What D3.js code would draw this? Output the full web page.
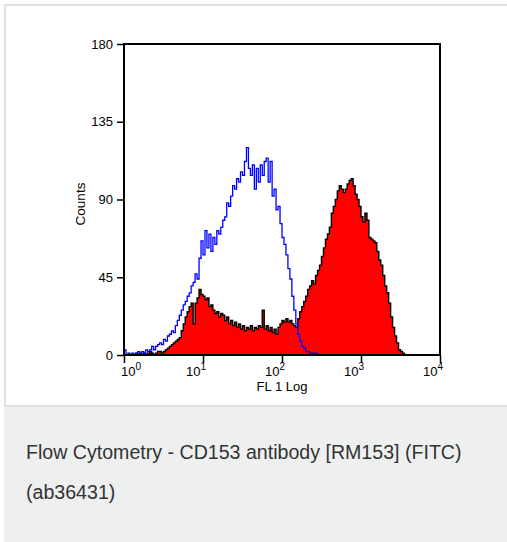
<!DOCTYPE html>
<html>
<head>
<meta charset="utf-8">
<script src="https://cdn.jsdelivr.net/npm/d3@7"></script>
<style>
  body { margin: 0; background: #fff; }
  svg text { font-family: "Liberation Sans", Arial, sans-serif; }
</style>
</head>
<body>
<div class="chart"></div>
<script>
// histogram channels: 0.025 decade wide, starting at 10^0
const binWidth = 0.025;

// isotype control (blue outline)
const blueCounts = [
  3,0,1,0,1,0,1,2,1,2,
  1,3,2,3,5,3,5,6,7,6,
  9,8,11,12,14,13,17,20,23,26,
  29,31,34,36,40,42,47,44,56,66,
  58,72,62,70,60,68,64,72,70,74,
  78,80,88,86,92,98,96,102,100,106,
  104,112,120,108,104,110,96,108,100,110,
  104,112,114,100,112,92,96,84,86,76,
  68,64,58,50,44,34,26,18,12,8,
  5,4,2,2,1,1,1,1
];

// CD153 stained (red filled, black outline)
const redCounts = [
  0,0,0,0,0,0,1,0,1,0,
  1,0,1,2,1,0,1,2,2,1,
  2,3,4,5,6,7,8,9,10,14,
  18,22,25,28,30,18,30,33,38,35,
  34,32,33,28,29,26,24,25,22,24,
  23,20,22,18,20,17,19,16,18,15,
  17,14,16,15,17,14,16,15,17,16,
  26,15,17,14,16,13,15,12,16,18,
  20,19,21,19,20,18,17,16,21,25,
  28,31,34,38,40,43,41,46,49,52,
  57,62,67,70,74,82,86,90,95,98,
  96,94,96,99,101,102,98,93,90,86,
  80,77,82,78,68,67,66,65,60,55,
  52,46,40,36,30,22,16,11,7,3,
  2,1
];

const yTicks = [0, 45, 90, 135, 180];
const xTicks = [1, 10, 100, 1000, 10000];
const xExponents = ["0", "1", "2", "3", "4"];
const xLabel = "FL 1 Log";
const yLabel = "Counts";
const captionLines = ["Flow Cytometry - CD153 antibody [RM153] (FITC)", "(ab36431)"];

const W = 507, H = 542;

const svg = d3.select(".chart").append("svg")
    .attr("width", W)
    .attr("height", H);

// card + caption band
svg.append("rect")
    .attr("x", 5).attr("y", 5)
    .attr("width", W).attr("height", H)
    .attr("fill", "#fff")
    .attr("stroke", "#e2e2e2")
    .attr("stroke-width", 2);
svg.append("rect")
    .attr("x", 4).attr("y", 406)
    .attr("width", W).attr("height", H - 406)
    .attr("fill", "#eef0ef");
svg.append("line")
    .attr("x1", 4).attr("x2", W)
    .attr("y1", 406).attr("y2", 406)
    .attr("stroke", "#e2e2e2")
    .attr("stroke-width", 2);

svg.selectAll(".caption")
    .data(captionLines)
    .join("text")
    .attr("class", "caption")
    .attr("x", 26)
    .attr("y", (d, i) => 459 + i * 40)
    .attr("fill", "#333")
    .style("font-size", "19.6px")
    .text(d => d);

const x = d3.scaleLog().domain([1, 10000]).range([124, 440]);
const y = d3.scaleLinear().domain([0, 180]).range([355, 44]);

function steps(counts) {
    const pts = [];
    counts.forEach((c, i) => {
        pts.push([Math.pow(10, i * binWidth), c]);
        pts.push([Math.pow(10, (i + 1) * binWidth), c]);
    });
    pts.push([pts[pts.length - 1][0], 0]);
    return pts;
}

const area = d3.area()
    .x(d => x(d[0]))
    .y0(y(0))
    .y1(d => y(d[1]));
const line = d3.line()
    .x(d => x(d[0]))
    .y(d => y(d[1]));

const redPts = steps(redCounts);
const bluePts = [[1, 0]].concat(steps(blueCounts));

svg.append("path")
    .datum(redPts)
    .attr("d", area)
    .attr("fill", "#ff0000");
svg.append("path")
    .datum(redPts)
    .attr("d", line)
    .attr("fill", "none")
    .attr("stroke", "#000")
    .attr("stroke-width", 1.4);
svg.append("path")
    .datum(bluePts)
    .attr("d", line)
    .attr("fill", "none")
    .attr("stroke", "#0000ff")
    .attr("stroke-width", 1.3);

// frame
svg.append("rect")
    .attr("x", 124).attr("y", 44)
    .attr("width", 316).attr("height", 311)
    .attr("fill", "none")
    .attr("stroke", "#000")
    .attr("stroke-width", 2);

const yAxis = svg.append("g")
    .attr("transform", "translate(124,0)")
    .call(d3.axisLeft(y).tickValues(yTicks).tickSize(7).tickPadding(4));
yAxis.select(".domain").remove();
yAxis.selectAll(".tick line").attr("stroke-width", 1.5);
yAxis.selectAll(".tick text")
    .attr("fill", "#000")
    .style("font-size", "13px")
    .style("font-family", "'Liberation Sans', Arial, sans-serif");

const xAxis = svg.append("g")
    .attr("transform", "translate(0,355)")
    .call(d3.axisBottom(x).tickValues(xTicks).tickSize(8).tickFormat(""));
xAxis.select(".domain").remove();
xAxis.selectAll(".tick line").attr("stroke-width", 1.5);

const xl = svg.selectAll(".xlab")
    .data(xTicks)
    .join("text")
    .attr("class", "xlab")
    .attr("x", (d, i) => i === 0 ? x(d) - 3 : x(d) - 17)
    .attr("y", 376)
    .style("font-size", "13px");
xl.append("tspan").text("10");
xl.append("tspan")
    .attr("dy", -6)
    .style("font-size", "10px")
    .text((d, i) => xExponents[i]);

svg.append("text")
    .attr("x", 282)
    .attr("y", 391)
    .attr("text-anchor", "middle")
    .style("font-size", "13px")
    .text(xLabel);

svg.append("text")
    .attr("transform", "translate(85,204) rotate(-90)")
    .attr("text-anchor", "middle")
    .style("font-size", "13.5px")
    .text(yLabel);
</script>
</body>
</html>
